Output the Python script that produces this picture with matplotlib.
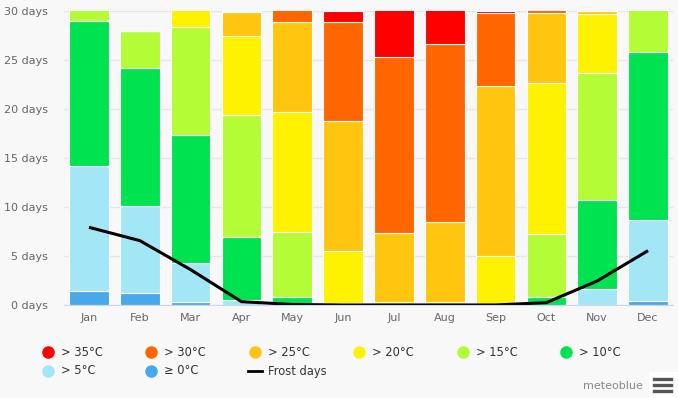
import matplotlib
matplotlib.use("Agg")
import matplotlib.pyplot as plt
from matplotlib.lines import Line2D
from matplotlib.patches import Rectangle
import numpy as np

# data (days per month, stacked)
months = ["Jan", "Feb", "Mar", "Apr", "May", "Jun", "Jul", "Aug", "Sep", "Oct", "Nov", "Dec"]
ge0 = [1.46, 1.22, 0.31, 0, 0, 0, 0, 0, 0, 0, 0, 0.41]
gt5 = [12.71, 8.84, 3.94, 0.51, 0, 0, 0, 0, 0, 0, 1.63, 8.25]
gt10 = [14.81, 14.1, 13.08, 6.39, 0.85, 0, 0, 0, 0, 0.85, 9.11, 17.16]
gt15 = [2.02, 3.77, 11.01, 12.5, 6.56, 0.2, 0, 0, 0.15, 6.35, 12.94, 5.18]
gt20 = [0, 0, 2.66, 8.02, 12.23, 5.34, 0.3, 0.3, 4.81, 15.4, 5.95, 0]
gt25 = [0, 0, 0, 2.41, 9.17, 13.22, 7.0, 8.13, 17.33, 7.2, 0.37, 0]
gt30 = [0, 0, 0, 0.17, 2.19, 10.05, 18.01, 18.14, 7.44, 1.2, 0, 0]
gt35 = [0, 0, 0, 0, 0, 1.19, 5.69, 4.43, 0.27, 0, 0, 0]
frost = [7.92, 6.56, 3.6, 0.34, 0.05, 0, 0, 0, 0, 0.24, 2.45, 5.54]

series = [
    ("\u2265 0\u00b0C", ge0, "#47a9eb"),
    ("> 5\u00b0C", gt5, "#a3e6f5"),
    ("> 10\u00b0C", gt10, "#00e350"),
    ("> 15\u00b0C", gt15, "#b3fc36"),
    ("> 20\u00b0C", gt20, "#fff200"),
    ("> 25\u00b0C", gt25, "#ffc50f"),
    ("> 30\u00b0C", gt30, "#ff6600"),
    ("> 35\u00b0C", gt35, "#ff0000"),
]

bg = "#f8f8f8"
fig = plt.figure(figsize=(6.78, 3.98), dpi=100, facecolor=bg)
ax = fig.add_axes([0.0938, 0.2337, 0.8995, 0.7393], facecolor=bg)

x = np.arange(len(months))
bottom = np.zeros(len(months))
for name, vals, col in series:
    ax.bar(x, vals, width=0.78, bottom=bottom, color=col, edgecolor="white", linewidth=0.8, zorder=2)
    bottom += np.array(vals)

ax.plot(x, frost, color="black", lw=2.2, zorder=3, solid_capstyle="butt")

ax.set_xlim(-0.5, len(months) - 0.5)
ax.set_ylim(0, 30)
ax.set_yticks(range(0, 31, 5))
ax.set_yticklabels([f"{v} days" for v in range(0, 31, 5)])
ax.set_xticks(x)
ax.set_xticklabels(months)
ax.tick_params(axis="both", length=0, labelsize=8, colors="#666666")
ax.tick_params(axis="y", pad=11)
ax.tick_params(axis="x", pad=6)
ax.grid(axis="y", color="#e6e6e6", lw=1, zorder=0)
for s in ["top", "right", "left"]:
    ax.spines[s].set_visible(False)
ax.spines["bottom"].set_color("#ccd6eb")
ax.spines["bottom"].set_zorder(4)

# legend, laid out in two rows like the original
W, H = 678.0, 398.0
leg_items = [series[7], series[6], series[5], series[4], series[3], series[2], series[1], series[0]]
col_x = [48, 151, 255, 359, 463, 566]
row_y = [352, 371]
lfont = ["Liberation Sans Narrow", "DejaVu Sans"]
for i, (name, vals, col) in enumerate(leg_items):
    cx = col_x[i % 6]
    cy = row_y[i // 6]
    fig.add_artist(Line2D([cx / W], [1 - cy / H], marker="o", ms=8, color=col, lw=0,
                          transform=fig.transFigure))
    fig.text((cx + 13) / W, 1 - cy / H, name, fontsize=8.3, color="#333333",
             va="center", ha="left", family=lfont)
cx, cy = col_x[2], row_y[1]
fig.add_artist(Line2D([(cx - 7) / W, (cx + 7) / W], [1 - cy / H] * 2, color="black", lw=2,
                      transform=fig.transFigure))
fig.text((cx + 13) / W, 1 - cy / H, "Frost days", fontsize=8.3, color="#333333",
         va="center", ha="left", family=lfont)

# credit and menu icon
fig.text(643 / W, 1 - 386 / H, "meteoblue", fontsize=8, color="#888888",
         va="center", ha="right", family=lfont)
fig.add_artist(Rectangle((649 / W, 1 - 398 / H), 29 / W, 26 / H, color="white",
                         transform=fig.transFigure, lw=0))
for dy in (-6, 0, 6):
    fig.add_artist(Line2D([654 / W, 671 / W], [1 - (385 + dy) / H] * 2, color="#555555", lw=2.4,
                          transform=fig.transFigure))

fig.savefig("out.png", dpi=100, facecolor=bg)
